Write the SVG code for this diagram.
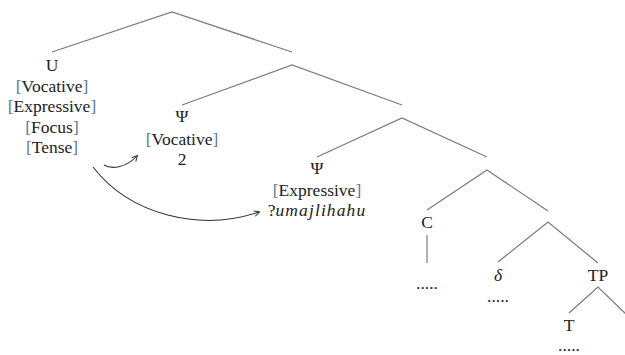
<svg xmlns="http://www.w3.org/2000/svg" width="625" height="355" viewBox="0 0 625 355">
<style>
text{font-family:'Liberation Serif','Times New Roman','DejaVu Serif',serif;font-size:17.5px;fill:#222;text-anchor:middle}
.b{fill:#5b7a99}
.it{font-style:italic;letter-spacing:1.1px}
.e{fill:none;stroke:#7a7a7a;stroke-width:1.2}
.a{fill:none;stroke:#333;stroke-width:1.1}
</style>
<defs>
<marker id="ah" viewBox="0 0 10 10" refX="8" refY="5" markerWidth="7" markerHeight="7" orient="auto" markerUnits="userSpaceOnUse">
<path d="M1,1 L9,5 L1,9" fill="none" stroke="#333" stroke-width="1.4"/>
</marker>
</defs>
<rect width="625" height="355" fill="#fff"/>
<g id="connectors">
<polyline class="e" points="52,52 172,12 292,52"/>
<polyline class="e" points="182,105 292,65 402,105"/>
<polyline class="e" points="317,157 402,118 487,157"/>
<polyline class="e" points="427,210 487,170 548,211"/>
<polyline class="e" points="498,262 548,222 598,263"/>
<polyline class="e" points="569,313 598,287 627,315"/>
<line class="e" x1="427" y1="235" x2="427" y2="263"/>
<path class="a" d="M104,165 C112,170 127,167 137,156" marker-end="url(#ah)"/>
<path class="a" d="M93,167 C130,215 200,232 259,212" marker-end="url(#ah)"/>
</g>
<g id="node-U">
<text x="52" y="71">U</text>
<text x="52" y="92"><tspan class="b">[</tspan>Vocative<tspan class="b">]</tspan></text>
<text x="52" y="112"><tspan class="b">[</tspan>Expressive<tspan class="b">]</tspan></text>
<text x="52" y="133"><tspan class="b">[</tspan>Focus<tspan class="b">]</tspan></text>
<text x="52" y="153"><tspan class="b">[</tspan>Tense<tspan class="b">]</tspan></text>
</g>
<g id="node-Psi1">
<text x="182" y="122">Ψ</text>
<text x="182" y="145"><tspan class="b">[</tspan>Vocative<tspan class="b">]</tspan></text>
<text x="182" y="165">2</text>
</g>
<g id="node-Psi2">
<text x="317" y="174">Ψ</text>
<text x="317" y="196"><tspan class="b">[</tspan>Expressive<tspan class="b">]</tspan></text>
<text x="317" y="216">?<tspan class="it">umajlihahu</tspan></text>
</g>
<g id="node-C">
<text x="427" y="228">C</text>
<text x="427" y="289">.....</text>
</g>
<g id="node-delta">
<text x="498" y="281" font-style="italic">δ</text>
<text x="498" y="302">.....</text>
</g>
<g id="node-TP">
<text x="598" y="281">TP</text>
</g>
<g id="node-T">
<text x="569" y="331">T</text>
<text x="569" y="351">.....</text>
</g>
</svg>
